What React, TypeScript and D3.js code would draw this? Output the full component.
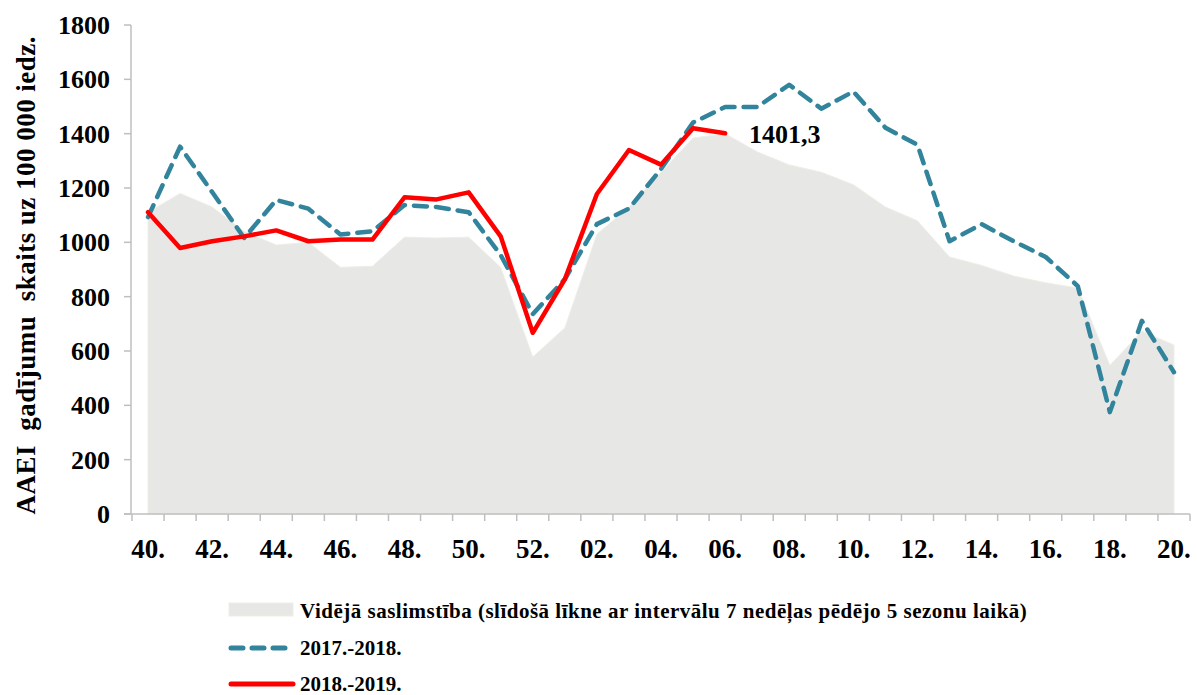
import { useRef, useEffect } from 'react'
import * as d3 from 'd3'

const weeks = ['40', '41', '42', '43', '44', '45', '46', '47', '48', '49', '50', '51', '52',
  '01', '02', '03', '04', '05', '06', '07', '08', '09', '10', '11', '12', '13', '14', '15', '16', '17', '18', '19', '20']

const avgCurve = [1110, 1180, 1130, 1040, 990, 1000, 908, 912, 1019, 1016, 1019, 908, 578,
  685, 1030, 1130, 1258, 1384, 1400, 1333, 1285, 1258, 1212, 1130, 1079, 946, 915, 876, 851, 832, 547, 673, 622]

const season1718 = [1093, 1352, 1185, 1016, 1156, 1124, 1029, 1041, 1137, 1130, 1111, 953, 736,
  864, 1067, 1124, 1270, 1441, 1498, 1498, 1580, 1492, 1555, 1422, 1359, 1004, 1067, 1004, 946, 839, 375, 711, 522]

const season1819 = [1111, 979, 1004, 1022, 1044, 1004, 1010, 1010, 1166, 1158, 1184, 1022, 667,
  864, 1178, 1340, 1286, 1420, 1401.3]

const yTicks = [0, 200, 400, 600, 800, 1000, 1200, 1400, 1600, 1800]

const legendLabels = [
  'Vidējā saslimstība (slīdošā līkne ar intervālu 7 nedēļas pēdējo 5 sezonu laikā)',
  '2017.-2018.',
  '2018.-2019.',
]

const FONT = '"Liberation Serif", "Times New Roman", serif'
const TEAL = '#31849B'
const RED = '#FF0000'
const GREY = '#E7E7E6'

export default function App() {
  const svgRef = useRef<SVGSVGElement>(null)

  useEffect(() => {
    if (!svgRef.current) return
    const W = 1197
    const H = 695
    const pad = { l: 131, r: 7, t: 25, b: 181 }

    const svg = d3.select(svgRef.current)
    svg.selectAll('*').remove()
    svg.attr('width', W).attr('height', H).attr('viewBox', `0 0 ${W} ${H}`)

    const x = d3.scaleBand<string>().domain(weeks).range([pad.l + 1, W - pad.r])
    const cx = (w: string) => (x(w) as number) + x.bandwidth() / 2
    const y = d3.scaleLinear().domain([0, 1800]).range([H - pad.b, pad.t])
    const y0 = H - pad.b

    // area
    const area = d3.area<number>()
      .x((_, i) => cx(weeks[i]))
      .y0(y0)
      .y1(d => y(d))
    svg.append('path').datum(avgCurve).attr('d', area)
      .attr('fill', GREY).attr('stroke', '#EFEEE6').attr('stroke-width', 1)

    // axes
    const axisColor = '#BFBFBF'
    svg.append('line').attr('x1', pad.l).attr('x2', pad.l).attr('y1', pad.t).attr('y2', y0)
      .attr('stroke', axisColor).attr('stroke-width', 1.5)
    svg.append('line').attr('x1', pad.l - 7).attr('x2', W - pad.r).attr('y1', y0).attr('y2', y0)
      .attr('stroke', axisColor).attr('stroke-width', 1.5)

    yTicks.forEach(t => {
      svg.append('line').attr('x1', pad.l - 7).attr('x2', pad.l).attr('y1', y(t)).attr('y2', y(t))
        .attr('stroke', axisColor).attr('stroke-width', 1.5)
      svg.append('text').attr('x', pad.l - 21).attr('y', y(t) + 9)
        .attr('text-anchor', 'end').attr('font-size', 26).attr('font-weight', 700)
        .attr('font-family', FONT).attr('fill', '#000').text(t)
    })

    weeks.forEach((w, i) => {
      const bx = x(w) as number
      svg.append('line').attr('x1', bx).attr('x2', bx).attr('y1', y0).attr('y2', y0 + 7)
        .attr('stroke', axisColor).attr('stroke-width', 1.5)
      if (i % 2 === 0) {
        svg.append('text').attr('x', cx(w)).attr('y', y0 + 44)
          .attr('text-anchor', 'middle').attr('font-size', 27).attr('font-weight', 700)
          .attr('font-family', FONT).attr('fill', '#000').text(w + '.')
      }
    })
    svg.append('line').attr('x1', W - pad.r).attr('x2', W - pad.r).attr('y1', y0).attr('y2', y0 + 7)
      .attr('stroke', axisColor).attr('stroke-width', 1.5)

    // y title
    svg.append('text')
      .attr('transform', `translate(35,${(pad.t + y0) / 2 + 6}) rotate(-90)`)
      .attr('text-anchor', 'middle').attr('font-size', 27).attr('font-weight', 700)
      .attr('font-family', FONT).attr('fill', '#000').attr('xml:space', 'preserve')
      .attr('textLength', 478).attr('lengthAdjust', 'spacing')
      .text('AAEI  gadījumu  skaits uz 100 000 iedz.')

    // lines
    const line = d3.line<number>()
      .x((_, i) => cx(weeks[i]))
      .y(d => y(d))

    svg.append('path').datum(season1718).attr('d', line)
      .attr('fill', 'none').attr('stroke', TEAL).attr('stroke-width', 4.5)
      .attr('stroke-dasharray', '13 9').attr('stroke-linejoin', 'round').attr('stroke-linecap', 'round')

    svg.append('path').datum(season1819).attr('d', line)
      .attr('fill', 'none').attr('stroke', RED).attr('stroke-width', 4.5)
      .attr('stroke-linejoin', 'round').attr('stroke-linecap', 'round')

    const lastIdx = season1819.length - 1
    svg.append('text').attr('x', cx(weeks[lastIdx]) + 24).attr('y', y(season1819[lastIdx]) + 10)
      .attr('font-size', 26).attr('font-weight', 700).attr('font-family', FONT).attr('fill', '#000')
      .text(String(season1819[lastIdx]).replace('.', ','))

    // legend
    const lg = svg.append('g').attr('font-family', FONT).attr('font-weight', 700).attr('font-size', 21)
    const lx = 229
    const rows = [611, 648, 684]
    lg.append('rect').attr('x', lx).attr('y', rows[0] - 8).attr('width', 64).attr('height', 13)
      .attr('fill', GREY).attr('stroke', '#EFEEE6')
    lg.append('line').attr('x1', lx + 2).attr('x2', lx + 60).attr('y1', rows[1]).attr('y2', rows[1])
      .attr('stroke', TEAL).attr('stroke-width', 5).attr('stroke-dasharray', '12 9').attr('stroke-linecap', 'round')
    lg.append('line').attr('x1', lx + 2).attr('x2', lx + 64).attr('y1', rows[2]).attr('y2', rows[2])
      .attr('stroke', RED).attr('stroke-width', 5).attr('stroke-linecap', 'round')
    legendLabels.forEach((lbl, i) => {
      lg.append('text').attr('x', 300).attr('y', rows[i] + 7).attr('fill', '#000')
        .attr('letter-spacing', i === 0 ? 0.5 : 0).text(lbl)
    })
  }, [])

  return (
    <div style={{ position: 'absolute', left: 0, top: 0 }}>
      <svg ref={svgRef} />
    </div>
  )
}
